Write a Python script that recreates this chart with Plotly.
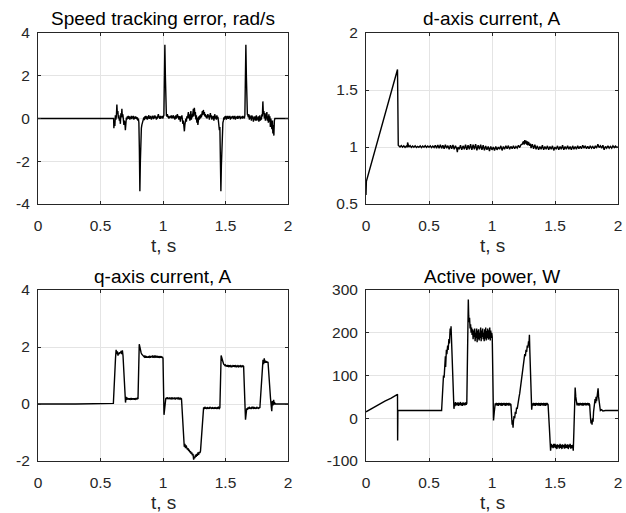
import plotly.graph_objects as go

# ---------------- data ----------------
X_TICKS = [0, 0.5, 1, 1.5, 2]
X_TICK_LABELS = ["0", "0.5", "1", "1.5", "2"]

TITLES = ["Speed tracking error, rad/s", "d-axis current, A",
          "q-axis current, A", "Active power, W"]
X_LABEL = "t, s"

SPEED_Y_TICKS = [-4, -2, 0, 2, 4]
SPEED_Y_LABELS = ["-4", "-2", "0", "2", "4"]
D_Y_TICKS = [0.5, 1, 1.5, 2]
D_Y_LABELS = ["0.5", "1", "1.5", "2"]
Q_Y_TICKS = [-2, 0, 2, 4]
Q_Y_LABELS = ["-2", "0", "2", "4"]
P_Y_TICKS = [-100, 0, 100, 200, 300]
P_Y_LABELS = ["-100", "0", "100", "200", "300"]

# (t [s], speed tracking error [rad/s])
SPEED_ERR = [
    (0, 0), (0.605, 0),
    (0.607, -0.45), (0.611, -0.1), (0.615, -0.35), (0.619, 0.15), (0.623, -0.05), (0.627, 0.1),
    (0.631, 0.65), (0.635, 0.2), (0.639, 0.35), (0.643, 0.0), (0.647, 0.15), (0.651, -0.1),
    (0.655, 0.05), (0.659, -0.25), (0.663, 0.25), (0.667, 0.05), (0.671, 0.45), (0.675, 0.05),
    (0.679, 0.2), (0.683, -0.05), (0.687, -0.3), (0.691, -0.1), (0.695, -0.2), (0.699, -0.55),
    (0.703, -0.25), (0.707, 0.05), (0.711, -0.05), (0.715, 0.1), (0.719, 0.0), (0.723, 0.12),
    (0.727, -0.02), (0.731, 0.1), (0.735, -0.05), (0.739, 0.08), (0.743, 0.0), (0.747, 0.12),
    (0.751, -0.03), (0.755, 0.1), (0.759, 0.02), (0.763, 0.12), (0.767, -0.05), (0.771, 0.08),
    (0.775, -0.02), (0.779, 0.1), (0.783, 0.0), (0.787, 0.08), (0.791, -0.04), (0.795, 0.05),
    (0.799, -0.1), (0.803, 0.0), (0.807, -0.2),
    (0.811, -1.5), (0.815, -3.4), (0.819, -2.0), (0.823, -0.8), (0.827, -0.45), (0.831, -0.3),
    (0.835, -0.2), (0.839, -0.12), (0.843, -0.05), (0.847, 0.05), (0.851, -0.08), (0.855, 0.1),
    (0.859, 0.0), (0.863, 0.12), (0.867, -0.03), (0.871, 0.1), (0.875, -0.05), (0.879, 0.08),
    (0.883, 0.02), (0.887, 0.15), (0.891, -0.02), (0.895, 0.1), (0.899, 0.0), (0.903, 0.12),
    (0.907, -0.05), (0.911, 0.08), (0.915, 0.02), (0.919, 0.14), (0.923, -0.03), (0.927, 0.1),
    (0.931, 0.0), (0.935, 0.15), (0.939, 0.02), (0.943, 0.1), (0.947, -0.05), (0.951, 0.08),
    (0.955, 0.0), (0.959, 0.12), (0.963, 0.2), (0.967, 0.05), (0.971, 0.1), (0.975, -0.02),
    (0.979, 0.12), (0.983, 0.0), (0.987, 0.1), (0.991, 0.05), (0.995, 0.12), (0.999, 0.0),
    (1.003, 0.1), (1.007, 0.15),
    (1.011, 1.8), (1.015, 3.45), (1.019, 2.0), (1.023, 0.6), (1.027, 0.15), (1.031, 0.1),
    (1.035, 0.2), (1.039, 0.05), (1.043, 0.12), (1.047, 0.0), (1.051, 0.1), (1.055, 0.02),
    (1.059, 0.12), (1.063, 0.05), (1.067, 0.15), (1.071, 0.0), (1.075, 0.1), (1.079, 0.05),
    (1.083, 0.15), (1.087, 0.0), (1.091, 0.1), (1.095, -0.05), (1.099, 0.05), (1.103, 0.15),
    (1.107, 0.0), (1.111, 0.1), (1.115, 0.2), (1.119, 0.05), (1.123, 0.12), (1.127, -0.05),
    (1.131, 0.1), (1.135, 0.05), (1.139, -0.15), (1.143, 0.1), (1.147, 0.0), (1.151, 0.15),
    (1.155, -0.1), (1.159, -0.25), (1.163, -0.1), (1.167, -0.45), (1.171, -0.6), (1.175, -0.3),
    (1.179, -0.1), (1.183, 0.0), (1.187, -0.15), (1.191, 0.1), (1.195, 0.0), (1.199, 0.15),
    (1.203, 0.3), (1.207, 0.0), (1.211, 0.2), (1.215, -0.1), (1.219, 0.1), (1.223, 0.35),
    (1.227, -0.05), (1.231, 0.2), (1.235, 0.05), (1.239, 0.25), (1.243, 0.45), (1.247, 0.1),
    (1.251, 0.5), (1.255, 0.2), (1.259, 0.3), (1.263, -0.05), (1.267, 0.15), (1.271, -0.2),
    (1.275, 0.05), (1.279, -0.3), (1.283, -0.1), (1.287, 0.1), (1.291, -0.05), (1.295, 0.15),
    (1.299, 0.0), (1.303, 0.2), (1.307, 0.05), (1.311, 0.25), (1.315, 0.35), (1.319, 0.15),
    (1.323, 0.4), (1.327, 0.2), (1.331, 0.3), (1.335, 0.1), (1.339, 0.2), (1.343, 0.05),
    (1.347, 0.15), (1.351, 0.0), (1.355, 0.1), (1.359, 0.2), (1.363, 0.05), (1.367, 0.15),
    (1.371, -0.05), (1.375, 0.1), (1.379, 0.25), (1.383, 0.05), (1.387, 0.15), (1.391, -0.05),
    (1.395, 0.1), (1.399, 0.0), (1.403, 0.12), (1.407, -0.1), (1.411, 0.05), (1.415, 0.2),
    (1.419, 0.0), (1.423, 0.1), (1.427, -0.05), (1.431, 0.15), (1.435, 0.0), (1.439, 0.08),
    (1.443, -0.1), (1.447, -0.3), (1.451, -0.55), (1.455, -0.4),
    (1.459, -1.8), (1.463, -3.4), (1.467, -2.2), (1.471, -0.9), (1.475, -0.4), (1.479, -0.2),
    (1.483, -0.1), (1.487, 0.05), (1.491, -0.05), (1.495, 0.1), (1.499, 0.0), (1.503, 0.12),
    (1.507, -0.05), (1.511, 0.1), (1.515, 0.0), (1.519, 0.12), (1.523, -0.02), (1.527, 0.1),
    (1.531, 0.02), (1.535, 0.12), (1.539, -0.05), (1.543, 0.08), (1.547, 0.0), (1.551, 0.1),
    (1.555, 0.05), (1.559, 0.12), (1.563, -0.03), (1.567, 0.1), (1.571, 0.0), (1.575, 0.12),
    (1.579, -0.05), (1.583, 0.08), (1.587, 0.02), (1.591, 0.1), (1.595, -0.02), (1.599, 0.12),
    (1.603, 0.0), (1.607, 0.1), (1.611, 0.05), (1.615, 0.12), (1.619, -0.03), (1.623, 0.08),
    (1.627, 0.02), (1.631, 0.1), (1.635, 0.0), (1.639, 0.12), (1.643, 0.02), (1.647, 0.08),
    (1.651, 0.0), (1.655, 0.15),
    (1.659, 1.8), (1.663, 3.45), (1.667, 2.0), (1.671, 0.6), (1.675, 0.2), (1.679, 0.15),
    (1.683, 0.05), (1.687, 0.2), (1.691, -0.05), (1.695, 0.15), (1.699, 0.0), (1.703, 0.1),
    (1.707, -0.1), (1.711, 0.15), (1.715, 0.0), (1.719, 0.1), (1.723, -0.15), (1.727, 0.05),
    (1.731, -0.05), (1.735, 0.1), (1.739, -0.1), (1.743, 0.0), (1.747, 0.15), (1.751, -0.1),
    (1.755, 0.05), (1.759, -0.05), (1.763, 0.1), (1.767, -0.15), (1.771, 0.0), (1.775, 0.15),
    (1.779, -0.1), (1.783, 0.05), (1.787, -0.05), (1.791, 0.2), (1.795, 0.1), (1.799, 0.8),
    (1.803, 0.2), (1.807, 0.35), (1.811, 0.0), (1.815, 0.25), (1.819, -0.1), (1.823, 0.15),
    (1.827, 0.05), (1.831, 0.3), (1.835, -0.1), (1.839, 0.1), (1.843, -0.2), (1.847, 0.2),
    (1.851, -0.15), (1.855, 0.1), (1.859, -0.4), (1.863, 0.0), (1.867, -0.3), (1.871, -0.5),
    (1.875, -0.1), (1.879, -0.7), (1.883, -0.3), (1.887, -0.8), (1.891, -0.1), (1.895, 0.0),
    (2.0, 0.0),
]

# (t [s], d-axis current [A])
D_CURRENT = [
    (0, 0.58), (0.003, 0.7), (0.25, 1.68), (0.252, 1.02), (0.256, 1.015),
    (0.26, 1.01), (0.27, 1.0), (0.28, 1.012), (0.29, 0.998), (0.30, 1.01), (0.31, 0.996),
    (0.32, 1.008), (0.328, 0.998), (0.33, 1.04), (0.335, 1.0), (0.34, 1.0), (0.35, 1.012),
    (0.36, 0.996), (0.37, 1.008), (0.38, 0.998), (0.39, 1.01), (0.40, 0.996), (0.41, 1.006),
    (0.42, 0.998), (0.43, 1.01), (0.44, 0.994), (0.45, 1.008), (0.46, 0.998), (0.47, 1.012),
    (0.48, 0.996), (0.49, 1.008), (0.50, 0.998), (0.51, 1.01), (0.52, 0.994), (0.53, 1.008),
    (0.54, 0.996), (0.55, 1.015), (0.56, 0.99), (0.57, 1.018), (0.58, 0.99), (0.59, 1.02),
    (0.60, 0.988), (0.61, 1.015), (0.62, 0.985), (0.63, 1.02), (0.64, 0.99), (0.65, 1.012),
    (0.66, 0.98), (0.67, 1.015), (0.68, 0.985), (0.69, 1.018), (0.70, 0.98), (0.71, 1.01),
    (0.72, 0.985), (0.725, 0.955), (0.73, 1.0), (0.74, 0.98), (0.75, 1.015), (0.76, 0.975),
    (0.77, 1.01), (0.78, 0.98), (0.79, 1.02), (0.80, 0.975), (0.81, 1.015), (0.82, 0.98),
    (0.83, 1.025), (0.84, 0.975), (0.85, 1.02), (0.86, 0.98), (0.87, 1.025), (0.88, 0.97),
    (0.89, 1.015), (0.90, 0.98), (0.91, 1.02), (0.92, 0.975), (0.93, 1.015), (0.94, 0.97),
    (0.95, 1.01), (0.96, 0.975), (0.97, 1.005), (0.98, 0.965), (0.99, 1.005), (1.00, 0.975),
    (1.01, 1.0), (1.02, 0.97), (1.03, 1.005), (1.04, 0.975), (1.05, 1.0), (1.06, 0.98),
    (1.07, 1.01), (1.08, 0.97), (1.09, 1.005), (1.10, 0.98), (1.11, 1.01), (1.12, 0.985),
    (1.13, 1.012), (1.14, 0.98), (1.15, 1.005), (1.16, 0.985), (1.17, 1.01), (1.18, 0.985),
    (1.19, 1.005), (1.20, 0.99), (1.21, 1.015), (1.22, 0.995), (1.23, 1.02), (1.24, 1.025),
    (1.25, 1.05), (1.255, 1.02), (1.26, 1.06), (1.265, 1.03), (1.27, 1.055), (1.275, 1.02),
    (1.28, 1.05), (1.285, 1.015), (1.29, 1.045), (1.30, 1.01), (1.305, 1.03), (1.31, 0.99),
    (1.32, 1.025), (1.33, 0.985), (1.34, 1.02), (1.35, 0.98), (1.36, 1.01), (1.37, 0.975),
    (1.38, 1.005), (1.39, 0.98), (1.40, 1.015), (1.41, 0.975), (1.42, 1.005), (1.43, 0.98),
    (1.44, 1.01), (1.45, 0.975), (1.46, 1.005), (1.47, 0.98), (1.48, 1.01), (1.49, 0.97),
    (1.50, 1.0), (1.51, 0.98), (1.52, 1.01), (1.53, 0.975), (1.54, 1.005), (1.55, 0.98),
    (1.56, 1.015), (1.57, 0.975), (1.58, 1.005), (1.59, 0.98), (1.60, 1.01), (1.61, 0.98),
    (1.62, 1.005), (1.63, 0.975), (1.64, 1.01), (1.65, 0.98), (1.66, 1.005), (1.67, 0.98),
    (1.68, 1.01), (1.69, 0.985), (1.70, 1.005), (1.71, 0.985), (1.72, 1.015), (1.73, 0.99),
    (1.74, 1.01), (1.75, 0.985), (1.76, 1.005), (1.77, 0.985), (1.78, 1.01), (1.79, 0.99),
    (1.80, 1.005), (1.81, 0.985), (1.82, 1.01), (1.83, 0.99), (1.84, 1.025), (1.85, 0.995),
    (1.86, 1.01), (1.87, 0.99), (1.88, 1.015), (1.89, 0.975), (1.90, 1.005), (1.91, 0.99),
    (1.92, 1.01), (1.93, 0.99), (1.94, 1.005), (1.95, 0.99), (1.96, 1.01), (1.97, 0.995),
    (1.98, 1.008), (1.99, 0.996), (2.0, 1.0),
]

# (t [s], q-axis current [A])
Q_CURRENT = [
    (0, 0.0), (0.05, 0.02), (0.06, 0.0), (0.3, 0.0), (0.6, 0.0), (0.603, 0.02),
    (0.62, 1.6), (0.625, 1.9), (0.63, 1.75), (0.635, 1.85), (0.64, 1.7), (0.645, 1.8),
    (0.65, 1.75), (0.655, 1.82), (0.66, 1.78), (0.665, 1.86), (0.67, 1.75), (0.675, 1.88),
    (0.68, 1.7),
    (0.695, 0.3), (0.7, 0.05), (0.705, 0.25), (0.71, 0.15), (0.715, 0.22), (0.72, 0.16),
    (0.725, 0.2), (0.73, 0.15), (0.735, 0.2), (0.74, 0.17), (0.745, 0.21), (0.75, 0.15),
    (0.755, 0.2), (0.76, 0.16), (0.765, 0.2), (0.77, 0.15), (0.775, 0.2), (0.78, 0.17),
    (0.785, 0.21), (0.79, 0.16), (0.795, 0.2), (0.80, 0.18),
    (0.81, 2.1), (0.815, 1.95), (0.82, 1.85), (0.825, 1.8), (0.83, 1.75), (0.835, 1.72),
    (0.84, 1.7), (0.845, 1.68), (0.85, 1.65), (0.855, 1.7), (0.86, 1.62), (0.865, 1.68),
    (0.87, 1.63), (0.875, 1.67), (0.88, 1.62), (0.885, 1.68), (0.89, 1.64), (0.895, 1.67),
    (0.90, 1.62), (0.905, 1.68), (0.91, 1.64), (0.915, 1.7), (0.92, 1.62), (0.925, 1.67),
    (0.93, 1.65), (0.935, 1.7), (0.94, 1.63), (0.945, 1.67), (0.95, 1.65), (0.955, 1.69),
    (0.96, 1.62), (0.965, 1.68), (0.97, 1.64), (0.975, 1.66), (0.98, 1.63), (0.985, 1.68),
    (0.99, 1.62), (0.995, 1.66), (1.0, 1.6),
    (1.008, -0.38), (1.013, -0.1), (1.018, 0.15), (1.023, 0.22), (1.028, 0.18), (1.033, 0.24),
    (1.038, 0.17), (1.043, 0.22), (1.048, 0.18), (1.053, 0.23), (1.058, 0.17), (1.063, 0.22),
    (1.068, 0.19), (1.073, 0.23), (1.078, 0.17), (1.083, 0.22), (1.088, 0.18), (1.093, 0.23),
    (1.098, 0.16), (1.103, 0.22), (1.108, 0.18), (1.113, 0.23), (1.118, 0.17), (1.123, 0.21),
    (1.128, 0.18), (1.133, 0.22), (1.138, 0.16), (1.143, 0.2), (1.148, 0.18),
    (1.165, -1.3), (1.17, -1.5), (1.175, -1.4), (1.18, -1.55), (1.185, -1.45), (1.19, -1.5),
    (1.195, -1.6), (1.2, -1.55), (1.205, -1.65), (1.21, -1.6), (1.215, -1.7), (1.22, -1.65),
    (1.225, -1.75), (1.23, -1.7), (1.235, -1.8), (1.24, -1.75), (1.245, -1.95), (1.25, -1.85),
    (1.255, -1.9), (1.26, -1.78), (1.265, -1.85), (1.27, -1.75), (1.275, -1.82), (1.28, -1.7),
    (1.285, -1.78), (1.29, -1.68), (1.295, -1.72), (1.3, -1.65),
    (1.32, -0.2), (1.325, -0.12), (1.33, -0.18), (1.335, -0.1), (1.34, -0.16), (1.345, -0.12),
    (1.35, -0.18), (1.355, -0.11), (1.36, -0.16), (1.365, -0.12), (1.37, -0.17), (1.375, -0.1),
    (1.38, -0.15), (1.385, -0.12), (1.39, -0.17), (1.395, -0.11), (1.40, -0.16), (1.405, -0.12),
    (1.41, -0.17), (1.415, -0.11), (1.42, -0.16), (1.425, -0.12), (1.43, -0.17), (1.435, -0.11),
    (1.44, -0.15), (1.445, -0.12), (1.45, -0.16), (1.455, -0.13),
    (1.465, 1.7), (1.47, 1.6), (1.475, 1.5), (1.48, 1.45), (1.485, 1.4), (1.49, 1.38),
    (1.495, 1.35), (1.5, 1.37), (1.505, 1.32), (1.51, 1.36), (1.515, 1.31), (1.52, 1.35),
    (1.525, 1.32), (1.53, 1.36), (1.535, 1.3), (1.54, 1.34), (1.545, 1.31), (1.55, 1.35),
    (1.555, 1.3), (1.56, 1.34), (1.565, 1.31), (1.57, 1.36), (1.575, 1.3), (1.58, 1.34),
    (1.585, 1.31), (1.59, 1.35), (1.595, 1.3), (1.6, 1.34), (1.605, 1.31), (1.61, 1.35),
    (1.615, 1.3), (1.62, 1.34), (1.625, 1.31), (1.63, 1.35), (1.635, 1.3), (1.64, 1.34),
    (1.645, 1.32),
    (1.66, -0.55), (1.665, -0.3), (1.67, -0.15), (1.675, -0.2), (1.68, -0.12), (1.685, -0.18),
    (1.69, -0.1), (1.695, -0.16), (1.70, -0.12), (1.705, -0.18), (1.71, -0.1), (1.715, -0.15),
    (1.72, -0.12), (1.725, -0.17), (1.73, -0.11), (1.735, -0.16), (1.74, -0.12), (1.745, -0.17),
    (1.75, -0.1), (1.755, -0.15), (1.76, -0.12), (1.765, -0.17), (1.77, -0.11), (1.775, -0.14),
    (1.795, 1.4), (1.8, 1.55), (1.805, 1.4), (1.81, 1.6), (1.815, 1.45), (1.82, 1.52),
    (1.825, 1.45), (1.83, 1.5), (1.835, 1.45), (1.84, 1.48),
    (1.86, 0.2), (1.865, -0.15), (1.87, -0.25), (1.875, 0.1), (1.88, -0.05), (1.885, 0.15),
    (1.89, -0.02), (1.895, 0.03), (1.9, 0.0), (1.95, 0.0), (2.0, 0.0),
]

# (t [s], active power [W])
ACTIVE_POWER = [
    (0, 15), (0.05, 24), (0.1, 32), (0.15, 40), (0.2, 47), (0.25, 56),
    (0.251, -52), (0.253, 18), (0.6, 18),
    (0.61, 60), (0.615, 100), (0.62, 95), (0.625, 130), (0.63, 145), (0.632, 120),
    (0.638, 160), (0.642, 150), (0.648, 170), (0.652, 160), (0.658, 185), (0.662, 175),
    (0.668, 210), (0.672, 195), (0.675, 215),
    (0.69, 80), (0.698, 22), (0.702, 35), (0.706, 28), (0.71, 38), (0.715, 30), (0.72, 36),
    (0.725, 30), (0.73, 37), (0.735, 29), (0.74, 36), (0.745, 31), (0.75, 38), (0.755, 30),
    (0.76, 35), (0.765, 29), (0.77, 37), (0.775, 31), (0.78, 36), (0.785, 30), (0.79, 37),
    (0.795, 32), (0.80, 35),
    (0.808, 250), (0.812, 278), (0.815, 240), (0.818, 225), (0.822, 235), (0.826, 210),
    (0.83, 220), (0.834, 200), (0.838, 212), (0.842, 195), (0.846, 208), (0.85, 185),
    (0.854, 205), (0.858, 190), (0.862, 210), (0.866, 180), (0.87, 200), (0.874, 188),
    (0.878, 210), (0.882, 178), (0.886, 205), (0.89, 185), (0.894, 208), (0.898, 182),
    (0.902, 200), (0.906, 188), (0.91, 212), (0.914, 180), (0.918, 205), (0.922, 190),
    (0.926, 210), (0.93, 185), (0.934, 200), (0.938, 180), (0.942, 208), (0.946, 186),
    (0.95, 212), (0.954, 182), (0.958, 204), (0.962, 188), (0.966, 210), (0.97, 184),
    (0.974, 206), (0.978, 186), (0.982, 212), (0.986, 182), (0.99, 205), (0.994, 188),
    (0.998, 200), (1.002, 190),
    (1.012, -5), (1.018, 15), (1.022, 30), (1.026, 35), (1.03, 30), (1.035, 36), (1.04, 30),
    (1.045, 35), (1.05, 29), (1.055, 36), (1.06, 31), (1.065, 35), (1.07, 30), (1.075, 36),
    (1.08, 29), (1.085, 35), (1.09, 31), (1.095, 36), (1.1, 30), (1.105, 35), (1.11, 29),
    (1.115, 36), (1.12, 31), (1.125, 35), (1.13, 30), (1.135, 36), (1.14, 30), (1.145, 34),
    (1.15, 32),
    (1.155, 0), (1.16, -15), (1.163, -5), (1.167, -22), (1.17, -8), (1.175, 5), (1.18, 0),
    (1.185, 15), (1.19, 10), (1.195, 25), (1.2, 22), (1.205, 35), (1.21, 42), (1.215, 50),
    (1.22, 58), (1.225, 70), (1.23, 80), (1.235, 95), (1.24, 110), (1.245, 125), (1.25, 130),
    (1.255, 140), (1.26, 150), (1.265, 145), (1.27, 160), (1.275, 155), (1.28, 170),
    (1.285, 165), (1.29, 180), (1.293, 170), (1.297, 195), (1.30, 160),
    (1.315, 20), (1.32, 35), (1.325, 30), (1.33, 36), (1.335, 30), (1.34, 35), (1.345, 29),
    (1.35, 36), (1.355, 31), (1.36, 35), (1.365, 30), (1.37, 36), (1.375, 30), (1.38, 35),
    (1.385, 29), (1.39, 36), (1.395, 31), (1.4, 35), (1.405, 30), (1.41, 36), (1.415, 30),
    (1.42, 35), (1.425, 29), (1.43, 36), (1.435, 31), (1.44, 34), (1.445, 32),
    (1.455, -20), (1.46, -70), (1.465, -76), (1.47, -60), (1.475, -68), (1.48, -62),
    (1.485, -70), (1.49, -60), (1.495, -68), (1.5, -60), (1.505, -70), (1.51, -62),
    (1.515, -72), (1.52, -61), (1.525, -68), (1.53, -63), (1.535, -71), (1.54, -60),
    (1.545, -69), (1.55, -62), (1.555, -72), (1.56, -61), (1.565, -68), (1.57, -63),
    (1.575, -71), (1.58, -60), (1.585, -70), (1.59, -62), (1.595, -69), (1.6, -61),
    (1.605, -72), (1.61, -62), (1.615, -68), (1.62, -60), (1.625, -71), (1.63, -63),
    (1.635, -70), (1.64, -62), (1.645, -76),
    (1.65, -30), (1.655, 20), (1.66, 72), (1.665, 50), (1.67, 40), (1.675, 30), (1.68, 36),
    (1.685, 30), (1.69, 35), (1.695, 30), (1.70, 36), (1.705, 31), (1.71, 35), (1.715, 30),
    (1.72, 36), (1.725, 30), (1.73, 35), (1.735, 31), (1.74, 36), (1.745, 30), (1.75, 35),
    (1.755, 31), (1.76, 36), (1.765, 30), (1.77, 35), (1.775, 32),
    (1.782, 0), (1.786, -12), (1.79, -5), (1.794, -15), (1.798, 0), (1.802, -8), (1.806, 15),
    (1.81, 25), (1.814, 30), (1.818, 45), (1.822, 35), (1.826, 50), (1.83, 40), (1.834, 55),
    (1.838, 65), (1.842, 70), (1.846, 50),
    (1.855, 25), (1.86, 18), (1.87, 20), (1.88, 17), (1.9, 18), (2.0, 18),
]

# ---------------- figure ----------------
W, H = 626, 513
FONT = "Liberation Sans, Arial, Helvetica, sans-serif"
AX_COLOR = "#262626"
GRID_COLOR = "#e4e4e4"
TITLE_SIZE = 19
TICK_SIZE = 15.5


def fx(p):
    return p / W


def fy(p):
    return 1 - p / H


panels = [
    (TITLES[0], SPEED_ERR, (38, 288), (33, 204), [-4, 4], SPEED_Y_TICKS, SPEED_Y_LABELS),
    (TITLES[1], D_CURRENT, (366, 618), (33, 204), [0.5, 2], D_Y_TICKS, D_Y_LABELS),
    (TITLES[2], Q_CURRENT, (38, 288), (290, 461), [-2, 4], Q_Y_TICKS, Q_Y_LABELS),
    (TITLES[3], ACTIVE_POWER, (366, 618), (290, 461), [-100, 300], P_Y_TICKS, P_Y_LABELS),
]

fig = go.Figure()
layout = dict(
    width=W, height=H, margin=dict(l=0, r=0, t=0, b=0, autoexpand=False),
    paper_bgcolor="white", plot_bgcolor="white", showlegend=False,
    font=dict(family=FONT, color=AX_COLOR),
)
annotations = []

common_axis = dict(
    showgrid=True, gridcolor=GRID_COLOR, gridwidth=1,
    showline=True, linecolor=AX_COLOR, linewidth=1, mirror="ticks",
    ticks="inside", ticklen=3, tickwidth=1, tickcolor=AX_COLOR,
    tickfont=dict(family=FONT, size=TICK_SIZE, color=AX_COLOR),
    zeroline=False, fixedrange=True, automargin=False,
)

for i, (title, pts, (x0, x1), (y0, y1), yr, yt, yl) in enumerate(panels):
    n = "" if i == 0 else str(i + 1)
    t = [p[0] for p in pts]
    v = [p[1] for p in pts]
    fig.add_trace(go.Scatter(x=t, y=v, mode="lines", xaxis="x" + n, yaxis="y" + n,
                             line=dict(color="black", width=1.4), hoverinfo="skip",
                             cliponaxis=False))
    layout["xaxis" + n] = dict(common_axis, domain=[fx(x0), fx(x1)], anchor="y" + n,
                               range=[0, 2], tickmode="array", tickvals=X_TICKS,
                               ticktext=X_TICK_LABELS, ticklabelstandoff=7)
    layout["yaxis" + n] = dict(common_axis, domain=[fy(y1), fy(y0)], anchor="x" + n,
                               range=yr, tickmode="array", tickvals=yt, ticktext=yl,
                               ticklabelstandoff=4)
    cx = fx((x0 + x1) / 2)
    annotations.append(dict(text=title, x=cx, y=fy(y0 - 14), xref="paper", yref="paper",
                            xanchor="center", yanchor="middle", showarrow=False,
                            font=dict(family=FONT, size=TITLE_SIZE, color="black")))
    annotations.append(dict(text=X_LABEL, x=cx, y=fy(y1 + 41), xref="paper", yref="paper",
                            xanchor="center", yanchor="middle", showarrow=False,
                            font=dict(family=FONT, size=TITLE_SIZE, color=AX_COLOR)))

layout["annotations"] = annotations
fig.update_layout(**layout)
fig.write_html(
    "out.html",
    config={"displayModeBar": False},
    post_script="document.body.style.margin='0';document.body.style.overflow='hidden';",
)
